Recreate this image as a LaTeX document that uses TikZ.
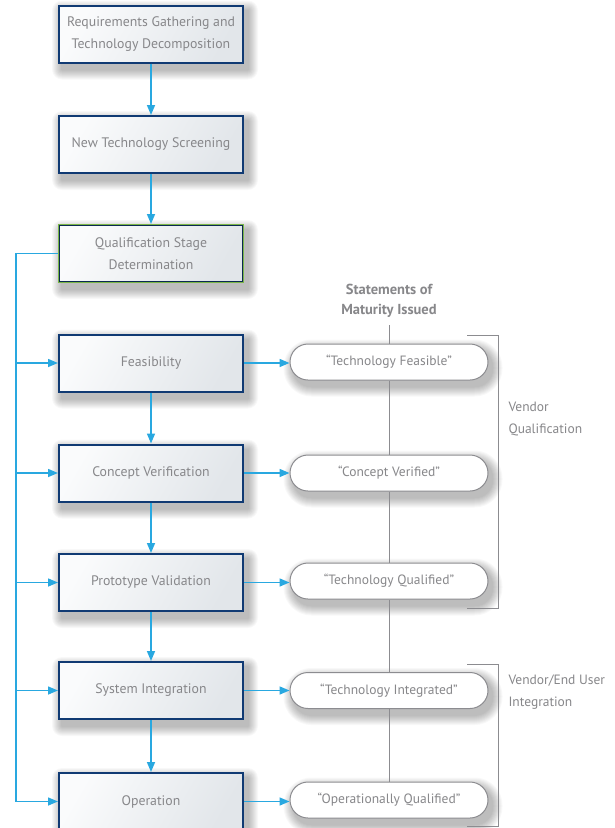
\documentclass[tikz,border=0pt]{standalone}
\usepackage{fontspec}
\setmainfont{PT Sans}
\usetikzlibrary{arrows.meta,backgrounds}
\definecolor{navy}{RGB}{16,58,115}
\definecolor{flowblue}{RGB}{41,168,224}
\definecolor{txtgray}{RGB}{135,135,138}
\definecolor{linegray}{RGB}{140,140,144}
\definecolor{qgreen}{RGB}{122,182,72}
\definecolor{boxlight}{RGB}{250,251,252}
\definecolor{boxdark}{RGB}{226,230,234}
\tikzset{
  stagebox/.style={rectangle, minimum width=184pt, minimum height=57pt, inner sep=2pt,
    draw=navy, line width=2pt, left color=boxlight, right color=boxdark, shading angle=60,
    text=txtgray, font=\fontsize{13.8}{22}\selectfont, align=center},
  qbox/.style={stagebox, draw=qgreen},
  pill/.style={rectangle, rounded corners=18pt, minimum width=198pt, minimum height=36pt,
    draw=linegray, line width=1pt, fill=white, text=txtgray, font=\fontsize{13.5}{16}\selectfont},
  flow/.style={draw=flowblue, line width=1.5pt},
  flowarrow/.style={flow, -{Triangle[length=10pt,width=8pt]}},
  grayline/.style={draw=linegray, line width=1pt},
  sidetext/.style={text=txtgray, font=\fontsize{13.5}{22}\selectfont, align=left, anchor=west},
}
\newcommand{\softshadow}[2]{% node, base corner radius
  \foreach \e in {1,2,...,10}{
    \fill[black, opacity=0.028, rounded corners={#2+\e*1pt}]
      ([shift={(4-\e,6-\e)}]#1.north west) rectangle ([shift={(4+\e,6+\e)}]#1.south east);
  }}
\begin{document}
\begin{tikzpicture}[x=1pt,y=-1pt]
\useasboundingbox (0,0) rectangle (615,828);

% title
\node[text=txtgray, font=\bfseries\fontsize{14.5}{20}\selectfont, align=center] (title) at (389,301) {Statements of\\Maturity Issued};
\coordinate (vtop) at (389,325);

% brackets
\coordinate (b1a) at (467,335);
\coordinate (b1b) at (498,335);
\coordinate (b1c) at (498,608);
\coordinate (b1d) at (467,608);
\draw[grayline] (b1a) -- (b1b) -- (b1c) -- (b1d);
\coordinate (b2a) at (467,664);
\coordinate (b2b) at (498,664);
\coordinate (b2c) at (498,826);
\coordinate (b2d) at (467,826);
\draw[grayline] (b2a) -- (b2b) -- (b2c) -- (b2d);
\node[sidetext] (vq) at (505,419) {Vendor\\Qualification};
\node[sidetext] (veu) at (505,692) {Vendor/End User\\Integration};

% boxes
\node[stagebox] (req) at (151,34) {Requirements Gathering and\\Technology Decomposition};
\node[stagebox] (scr) at (151,144.5) {New Technology Screening};
\node[qbox] (qsd) at (151,253.5) {Qualification Stage\\Determination};
\draw[navy!70!black, line width=0.6pt] ([shift={(1.3,1.3)}]qsd.north west) rectangle ([shift={(-1.3,-1.3)}]qsd.south east);
\node[stagebox] (fea) at (151,363) {Feasibility};
\node[stagebox] (con) at (151,473) {Concept Verification};
\node[stagebox] (pro) at (151,582.5) {Prototype Validation};
\node[stagebox] (sys) at (151,690.5) {System Integration};
\node[stagebox] (ope) at (151,801.5) {Operation};

% pills
\node[pill] (p1) at (389,362) {``Technology Feasible''};
\node[pill] (p2) at (389,473) {``Concept Verified''};
\node[pill] (p3) at (389,581) {``Technology Qualified''};
\node[pill] (p4) at (389,690.5) {``Technology Integrated''};
\node[pill] (p5) at (389,800) {``Operationally Qualified''};

\begin{scope}[on background layer]
  \fill[white] (0,0) rectangle (615,828);
  \foreach \n in {req,scr,qsd,fea,con,pro,sys,ope}{\softshadow{\n}{0pt}}
  \foreach \n in {p1,p2,p3,p4,p5}{\softshadow{\n}{18pt}}
\end{scope}

\draw[grayline] (vtop) -- (p1.north);
\draw[grayline] (p1.south) -- (p2.north);
\draw[grayline] (p2.south) -- (p3.north);
\draw[grayline] (p3.south) -- (p4.north);
\draw[grayline] (p4.south) -- (p5.north);

% vertical flow
\draw[flowarrow] (req) -- (scr);
\draw[flowarrow] (scr) -- (qsd);
\draw[flowarrow] (fea) -- (con);
\draw[flowarrow] (con) -- (pro);
\draw[flowarrow] (pro) -- (sys);
\draw[flowarrow] (sys) -- (ope);

% bus
\coordinate (bustop) at (16,253.5);
\draw[flow] (qsd.west) -- (bustop) -- (bustop |- ope.west);
\foreach \b in {fea,con,pro,sys,ope}{
  \draw[flowarrow] (bustop |- \b.west) -- (\b.west);
}

% to pills
\draw[flowarrow] (fea.east) -- (fea.east -| p1.west);
\draw[flowarrow] (con.east) -- (con.east -| p2.west);
\draw[flowarrow] (pro.east) -- (pro.east -| p3.west);
\draw[flowarrow] (sys.east) -- (sys.east -| p4.west);
\draw[flowarrow] (ope.east) -- (ope.east -| p5.west);
\end{tikzpicture}
\end{document}
